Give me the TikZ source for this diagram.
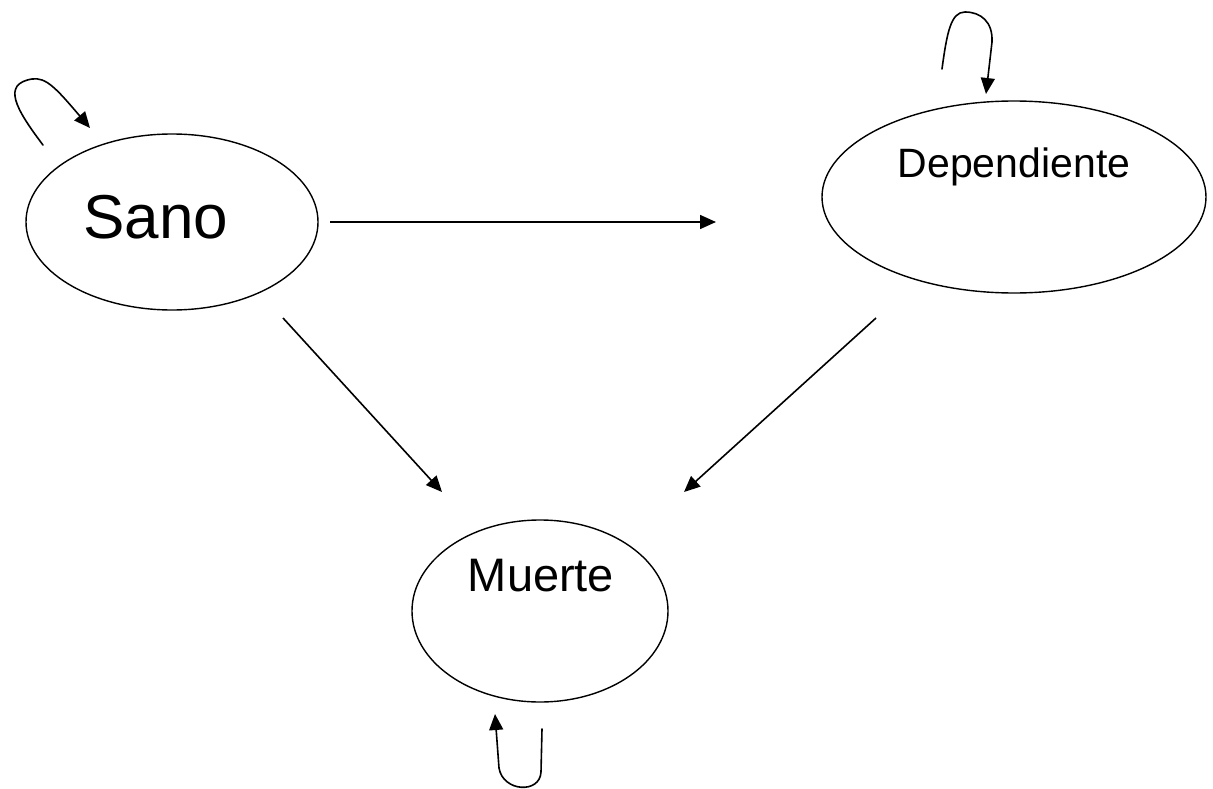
\documentclass[tikz,border=0pt]{standalone}
\usepackage{fontspec}
\setmainfont{Liberation Sans}
\usetikzlibrary{shapes.geometric,arrows.meta}
\begin{document}
\begin{tikzpicture}[x=1pt,y=-1pt,
  state/.style={ellipse, draw, line width=1.4pt, inner sep=0pt},
  lbl/.style={anchor=base, inner sep=0pt},
  conn/.style={line width=1.6pt, -{Triangle[length=16pt,width=14pt]}},
  loopc/.style={line width=1.6pt, line cap=round, -{Triangle[length=16pt,width=14pt]}}]
\useasboundingbox (0,0) rectangle (1213,789);
% states
\node[state, minimum width=292pt, minimum height=176pt] (sano) at (172,222) {};
\node[state, minimum width=384pt, minimum height=192pt] (dep) at (1014,197) {};
\node[state, minimum width=256pt, minimum height=182pt] (muerte) at (540,611) {};
% labels
\node[lbl, font=\fontsize{62}{62}\selectfont] (tsano) at (156,238) {Sano};
\node[lbl, font=\fontsize{41}{41}\selectfont] (tdep) at (1014,177) {Dependiente};
\node[lbl, font=\fontsize{47}{47}\selectfont] (tmuerte) at (541,591) {Muerte};
% connector ends
\coordinate (sd1) at (330,222);
\coordinate (sd2) at (716,222);
\coordinate (sm1) at (283,318);
\coordinate (sm2) at (442,492);
\coordinate (dm1) at (876,318);
\coordinate (dm2) at (684,492);
\draw[conn] (sd1) -- (sd2);
\draw[conn] (sm1) -- (sm2);
\draw[conn] (dm1) -- (dm2);
% self loops
\coordinate (ls1) at (43,145);
\coordinate (ls2) at (90,128);
\draw[loopc] (ls1) .. controls (15,108) and (2,84) .. (32,79) .. controls (46,77) and (56,88) .. (ls2);
\coordinate (ld1) at (942,69);
\coordinate (ld2) at (986,94);
\draw[loopc] (ld1) .. controls (947,32) and (951,12) .. (965,12) .. controls (981,12) and (993,22) .. (992,42) -- (ld2);
\coordinate (lm1) at (542,729);
\coordinate (lm2) at (495,714);
\draw[loopc] (lm1) -- (541,772) .. controls (540,794) and (503,792) .. (499,768) -- (lm2);
\end{tikzpicture}
\end{document}
